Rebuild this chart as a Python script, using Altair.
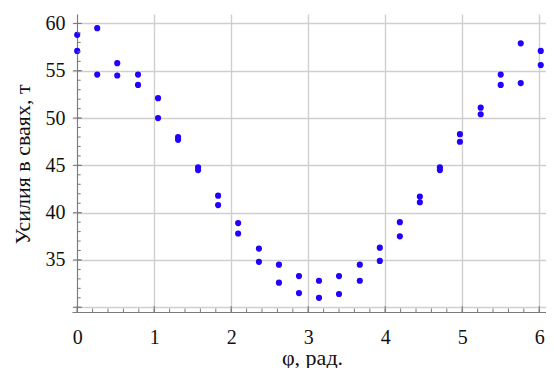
import altair as alt
import pandas as pd
import numpy as np

# angle values (rad)
phi = [0.00, 0.26, 0.52, 0.79, 1.05, 1.31, 1.57, 1.83, 2.09, 2.36, 2.62, 2.88,
       3.14, 3.40, 3.67, 3.93, 4.19, 4.45, 4.71, 4.97, 5.24, 5.50, 5.76, 6.02]
# forces in piles (t), two piles per angle
upper = [58.8, 59.5, 55.8, 54.6, 52.1, 48.0, 44.8, 41.8, 38.9, 36.2, 34.5, 33.3,
         32.8, 33.3, 34.5, 36.3, 39.0, 41.7, 44.8, 48.3, 51.1, 54.6, 57.9, 57.1]
lower = [57.1, 54.6, 54.5, 53.5, 50.0, 47.7, 44.5, 40.8, 37.8, 34.8, 32.6, 31.5,
         31.0, 31.4, 32.8, 34.9, 37.5, 41.1, 44.5, 47.5, 50.4, 53.5, 53.7, 55.6]

x_ticks = [0, 1, 2, 3, 4, 5, 6]
y_ticks = [30, 35, 40, 45, 50, 55, 60]
x_minor = [round(v, 1) for v in np.arange(0, 6.01, 0.2)]
y_minor = list(range(30, 61))

FONT = "Liberation Serif"
W, H = 474, 298

df = pd.DataFrame({"phi": phi * 2, "F": upper + lower})

xs = alt.Scale(domain=[-0.0675, 6.088], nice=False, zero=False)
ys = alt.Scale(domain=[29.5, 61.0], nice=False, zero=False)

common = dict(grid=True, gridColor="#cfcfcf", gridWidth=1.4,
              domainColor="#7a7a7a", domainWidth=1,
              ticks=False, tickSize=0, labelFlush=False,
              labelFont=FONT, labelFontSize=20, labelColor="#111",
              titleFont=FONT, titleFontSize=22, titleFontWeight="normal",
              titleColor="#111")

xa = alt.Axis(values=x_ticks, title="φ, рад.", format="d", labelPadding=15,
              titleBaseline="alphabetic", titleY=52, titleX=240, **common)
ya = alt.Axis(values=y_ticks, title="Усилия в сваях, т", offset=-5, labelPadding=12,
              labelExpr="datum.value == 30 ? '' : datum.label",
              titleAngle=270, titleBaseline="middle", titleAlign="center",
              titleX=-55, titleY=150, **common)

points = alt.Chart(df).mark_circle(size=38, opacity=1, color="#2200ff").encode(
    x=alt.X("phi:Q", scale=xs, axis=xa),
    y=alt.Y("F:Q", scale=ys, axis=ya),
)

tick_color = "#7a7a7a"
xmin_rule = alt.Chart(pd.DataFrame({"v": x_minor})).mark_rule(color=tick_color, strokeWidth=1).encode(
    x=alt.X("v:Q", scale=xs, axis=xa),
    y=alt.value(H - 3.5), y2=alt.value(H),
)
xmaj_rule = alt.Chart(pd.DataFrame({"v": x_ticks})).mark_rule(color=tick_color, strokeWidth=1).encode(
    x=alt.X("v:Q", scale=xs, axis=xa),
    y=alt.value(H - 6), y2=alt.value(H),
)
ymin_rule = alt.Chart(pd.DataFrame({"v": y_minor})).mark_rule(color=tick_color, strokeWidth=1).encode(
    y=alt.Y("v:Q", scale=ys, axis=ya),
    x=alt.value(5.2), x2=alt.value(8.7),
)
ymaj_rule = alt.Chart(pd.DataFrame({"v": y_ticks})).mark_rule(color=tick_color, strokeWidth=1).encode(
    y=alt.Y("v:Q", scale=ys, axis=ya),
    x=alt.value(1.2), x2=alt.value(10),
)

chart = alt.layer(points, xmin_rule, xmaj_rule, ymin_rule, ymaj_rule).properties(
    width=W, height=H,
    background="white",
    autosize=alt.AutoSizeParams(type="none"),
    padding={"left": 64, "top": 6, "right": 0, "bottom": 56},
).configure(
    font=FONT,
    style={"guide-label": {"font": FONT}, "guide-title": {"font": FONT}},
).configure_view(stroke=None).configure_axis(
    labelFont=FONT, titleFont=FONT,
)

chart.save("out.html", embed_options={"renderer": "svg", "actions": False})
